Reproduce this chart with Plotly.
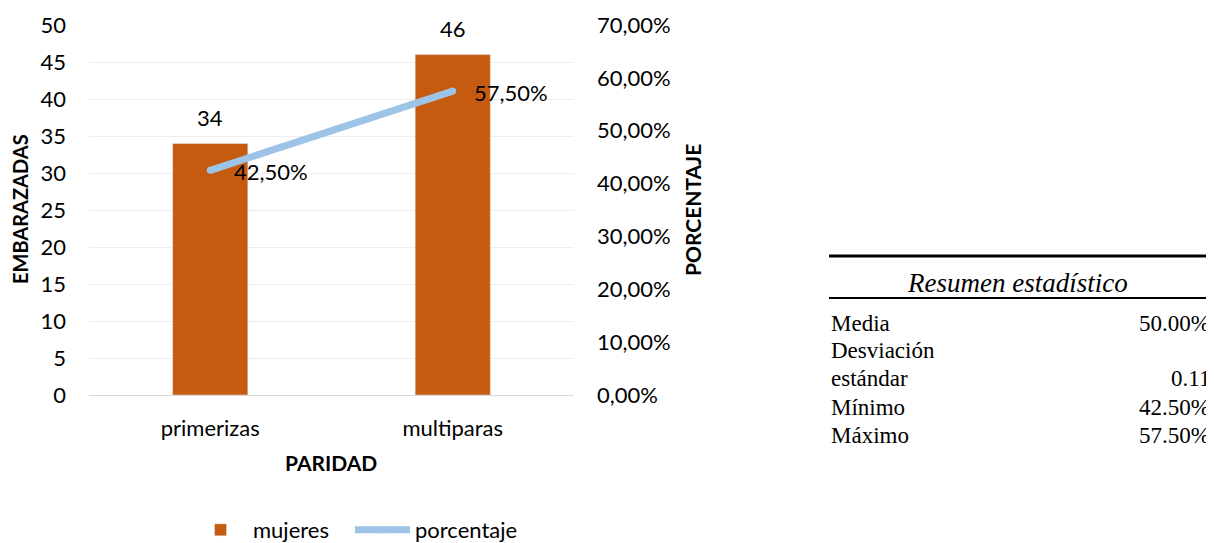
import plotly.graph_objects as go
import numpy as np

# ---- data ----
categorias = ["primerizas", "multiparas"]
mujeres = [34, 46]
porcentaje = [0.425, 0.575]
y1_max = 50
y2_max = 0.70

# summary table (computed from the percentages)
media = float(np.mean(porcentaje))
desv = float(np.std(porcentaje, ddof=1))
minimo = float(np.min(porcentaje))
maximo = float(np.max(porcentaje))

# the page body has an 8px margin, so work in reference pixels shifted by 8
OFF = 8
W, H = 1214 - OFF, 543 - OFF
PLOT_L, PLOT_R, PLOT_T, PLOT_B = 89, 574, 25, 395   # reference pixels
ML = PLOT_L - OFF
MT = PLOT_T - OFF
MB = H - (PLOT_B - OFF)
MR = 12
PW = W - ML - MR
PH = H - MT - MB


def px(x):
    return (x - OFF - ML) / PW


def py(y):
    return (H - MB - (y - OFF)) / PH


BAR = "#C55A11"
LINE = "#9DC3E6"
FONT = "Lato"
SERIF = "Liberation Serif"

fig = go.Figure()
fig.add_trace(go.Bar(
    x=categorias, y=mujeres, name="mujeres", marker_color=BAR,
    width=0.31, yaxis="y", hoverinfo="skip", legend="legend",
))
fig.add_trace(go.Scatter(
    x=categorias, y=porcentaje, name="porcentaje", mode="lines+markers",
    line=dict(color=LINE, width=7), marker=dict(color=LINE, size=7),
    yaxis="y2", hoverinfo="skip", legend="legend2",
))

ann = []
# bar value labels
for c, v in zip(categorias, mujeres):
    ann.append(dict(x=c, y=v, xref="x", yref="y", text=str(v), showarrow=False,
                    xanchor="center", yanchor="middle",
                    yshift=26, font=dict(family=FONT, size=22, color="#000")))
# line value labels
for c, v, xs in zip(categorias, porcentaje, [22, 19]):
    ann.append(dict(x=c, y=v, xref="x", yref="y2",
                    text=f"{v*100:.2f}%".replace(".", ","), showarrow=False,
                    xanchor="left", yanchor="middle", xshift=xs, yshift=-1,
                    font=dict(family=FONT, size=22, color="#000")))
# axis titles
TT = dict(family=FONT, size=21, color="#000")
ann.append(dict(x=px(20), y=py(209), xref="paper", yref="paper", text="<b>EMBARAZADAS</b>",
                textangle=-90, showarrow=False, xanchor="center", yanchor="middle",
                font=dict(family=FONT, size=20, color="#000")))
ann.append(dict(x=px(692), y=py(210), xref="paper", yref="paper", text="<b>PORCENTAJE</b>",
                textangle=-90, showarrow=False, xanchor="center", yanchor="middle", font=TT))
ann.append(dict(x=px(331), y=py(463), xref="paper", yref="paper", text="<b>PARIDAD</b>",
                showarrow=False, xanchor="center", yanchor="middle", font=TT))

# summary table
TF = dict(family=SERIF, size=23, color="#000")
ann.append(dict(x=px(1017), y=py(283), xref="paper", yref="paper",
                text="<i>Resumen estadístico</i>", showarrow=False,
                xanchor="center", yanchor="middle",
                font=dict(family=SERIF, size=27, color="#000")))
rows_left = [("Media", 323), ("Desviación", 350), ("estándar", 378), ("Mínimo", 407), ("Máximo", 435)]
for t, yy in rows_left:
    ann.append(dict(x=px(829), y=py(yy), xref="paper", yref="paper", text=t,
                    xanchor="left", yanchor="middle", showarrow=False, font=TF))
rows_right = [(f"{media*100:.2f}%", 323), (f"{desv:.2f}", 378),
              (f"{minimo*100:.2f}%", 407), (f"{maximo*100:.2f}%", 435)]
for t, yy in rows_right:
    ann.append(dict(x=px(1212), y=py(yy), xref="paper", yref="paper", text=t,
                    xanchor="right", yanchor="middle", showarrow=False, font=TF))

shapes = [
    dict(type="line", xref="paper", yref="paper", x0=px(829), x1=px(1214),
         y0=py(256), y1=py(256), line=dict(color="#000", width=3)),
    dict(type="line", xref="paper", yref="paper", x0=px(829), x1=px(1214),
         y0=py(298), y1=py(298), line=dict(color="#000", width=2)),
]

LEG = dict(orientation="h", xanchor="left", yanchor="middle",
           font=dict(family=FONT, size=22), itemwidth=55, bgcolor="rgba(0,0,0,0)")

fig.update_layout(
    width=W, height=H,
    margin=dict(l=ML, r=MR, t=MT, b=MB, autoexpand=False),
    paper_bgcolor="white", plot_bgcolor="white",
    separators=",.",
    font=dict(family=FONT, size=22, color="#000"),
    xaxis=dict(domain=[0, px(PLOT_R)], showline=False, ticks="",
               ticklabelstandoff=18, tickfont=dict(size=22)),
    yaxis=dict(range=[0, y1_max], dtick=5, showgrid=True, gridcolor="#EDEDED",
               gridwidth=1, zeroline=True, zerolinecolor="#D9D9D9", zerolinewidth=1,
               ticks="", ticklabelstandoff=22, tickfont=dict(size=22)),
    yaxis2=dict(range=[0, y2_max], dtick=0.1, tickformat=".2%", overlaying="y",
                side="right", anchor="free", position=px(596), showgrid=False,
                zeroline=False, ticks="", tickfont=dict(size=22)),
    showlegend=True,
    legend=dict(x=px(188), y=py(530), **LEG),
    legend2=dict(x=px(350), y=py(530), **LEG),
    annotations=ann, shapes=shapes, bargap=0.69,
)

fig.write_html("out.html")
